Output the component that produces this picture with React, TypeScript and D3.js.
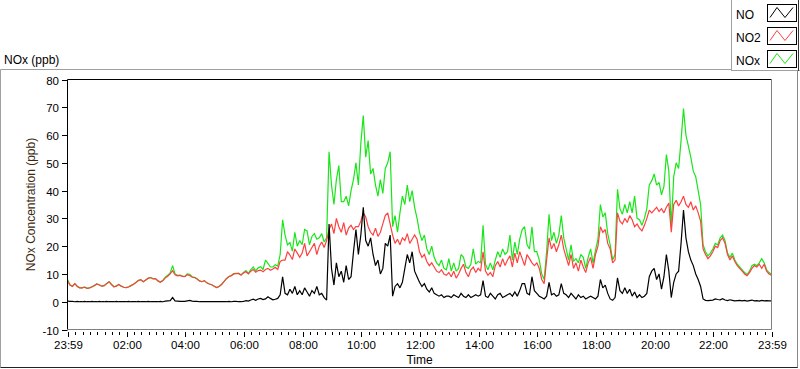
import * as d3 from "d3";
import { useEffect, useRef } from "react";

// 5-minute readings from 23:59 to 23:59 next day (289 points each)
const noValues = [
  0.2, 0.1, 0.1, 0, 0.1, 0, 0, 0.1, 0, 0, 0.1, 0,
  0, 0.1, 0, 0, 0.1, 0, 0, 0, 0.1, 0, 0, 0,
  0, 0.1, 0, 0, 0, 0.1, 0, 0, 0, 0.1, 0, 0,
  0, 0, 0.1, 0, 0.2, 0.3, 0.4, 1.5, 0.3, 0.2, 0.1, 0.1,
  0.1, 0.3, 0.5, 0.2, 0.1, 0.1, 0, 0, 0, 0, 0, 0,
  0, 0, 0, 0, 0, 0, 0.1, 0, 0.1, 0.1, 0, 0,
  0.1, 0.4, 0.2, 0.6, 0.9, 0.5, 1, 1.2, 0.8, 1, 1.8, 1.2,
  0.7, 0.9, 1.2, 2.5, 9, 3, 2.5, 4.5, 3, 5.5, 2.5, 4,
  2.5, 5, 3.5, 2, 4, 3, 5.5, 2.5, 3, 1.5, 0.6, 28,
  12, 6, 14, 9, 11, 7, 13, 8, 9, 18, 26, 17,
  24, 34, 22, 20, 23, 17, 13, 15, 10, 12, 21, 20,
  24, 2, 5.5, 6.5, 5, 7, 12, 17, 14, 18, 11, 9,
  7, 5.5, 6.5, 4.5, 3.5, 5, 3, 2.5, 2, 2.5, 1.5, 2,
  2, 1.5, 2.5, 2, 1.5, 3, 2, 1.5, 2.5, 1.5, 2, 2.5,
  2, 2.5, 7.6, 2, 1.5, 3, 2, 1, 2.5, 3, 1.5, 2,
  2.5, 3, 2, 3.5, 2, 4, 6.5, 6.5, 3, 2.5, 9, 4,
  3, 2, 1.5, 1, 2, 7, 2.5, 3, 2, 2.5, 6.5, 3,
  2.5, 1.5, 3, 2, 1, 2.5, 1.5, 2, 1, 1.5, 2, 1.5,
  1, 2, 8, 5, 6, 3, 1, 0.5, 1.5, 8.6, 4, 3,
  5, 3, 4.5, 2, 3.5, 1.5, 2.5, 1.5, 2, 3, 9, 11,
  12, 8, 10, 4.5, 9, 17, 11, 1.5, 7, 10, 11, 21,
  33, 23, 18, 15, 13, 10, 8, 5.5, 1, 0.5, 0.4, 0.5,
  0.6, 1, 0.8, 0.7, 1.1, 0.6, 0.4, 0.7, 0.5, 0.3, 0.4, 0.5,
  0.3, 0.5, 0.2, 0.4, 0.6, 0.3, 0.4, 0.2, 0.5, 0.3, 0.4, 0.3,
  0.3,
];

const no2Values = [
  7.5, 6, 5.5, 6.5, 5.5, 5, 5, 5.2, 4.8, 5, 5.3, 5.8,
  6.4, 6, 5.6, 5.8, 6.5, 7.2, 6.2, 5.4, 5.6, 6.2, 5.6, 5.2,
  5.1, 5.3, 5.8, 6.3, 6.9, 7.6, 7.9, 7.2, 7.8, 8.4, 8.7, 8.2,
  8.3, 7.5, 7, 7.6, 8.6, 9.2, 10, 11.2, 9.7, 9.3, 9.5, 9.1,
  9, 9.7, 9.4, 8.8, 8.7, 8.2, 7.5, 7.2, 7.6, 6.8, 6.4, 6.1,
  5.6, 5.1, 5.5, 6.2, 7.2, 8.3, 9, 9.4, 10, 10.1, 10.2, 9.6,
  10.4, 10.8, 10, 11, 11.6, 10.6, 11.2, 11.4, 10.8, 11.6, 12, 11.3,
  11.8, 12.4, 11.6, 14.5, 15, 15, 18, 16.8, 15.2, 19, 17.5, 16,
  17.5, 21, 16.5, 18, 19.5, 21, 17, 20, 21.5, 19.5, 22, 26,
  28, 24.5, 30, 27, 25, 28.5, 24, 26.5, 27.5, 26, 27, 27,
  29, 32, 30.5, 27, 25, 24, 26.5, 23.5, 25, 28, 31, 32,
  28, 24, 21, 22.5, 20.5, 23, 22, 24.5, 21, 22.5, 24, 22.5,
  18, 16, 17, 14.5, 13, 14, 12.5, 11, 10.5, 11.5, 10, 9.5,
  10.5, 9, 11, 8.5, 10, 12, 13.5, 10.5, 9, 11.5, 12.5, 10.5,
  12, 11, 18, 11, 9.5, 10.5, 9, 13, 14.5, 12.5, 15.5, 13,
  15, 16.5, 12.5, 17.5, 14, 18, 15.5, 13, 17, 15.5, 14, 13,
  14, 12, 8, 6.5, 15, 23, 19, 21, 18, 20.5, 24, 19,
  16, 13, 17, 12, 14, 11, 15, 12.5, 10.5, 14, 16, 12,
  17, 20, 27, 25, 26, 21, 19, 14, 15, 32, 29, 28,
  30, 28.5, 31, 29.5, 27, 28, 26.5, 25.5, 27.5, 30, 33, 32,
  33, 34, 32.5, 33.5, 32, 34, 35.5, 25, 35, 36.5, 34.5, 36,
  38, 35, 34, 36, 33, 34.5, 32, 29, 19, 17, 15.5, 16.5,
  18, 20, 19.5, 22, 23, 21, 17, 15, 16.5, 14.5, 13, 12,
  11, 10, 9.4, 10.5, 12, 13, 12.5, 13.5, 12, 13.5, 11, 10,
  9.5,
];

const noxValues = [
  8, 6.1, 5.6, 6.5, 5.6, 5, 5, 5.3, 4.8, 5, 5.4, 5.8,
  6.4, 6.1, 5.6, 5.8, 6.6, 7.2, 6.2, 5.4, 5.7, 6.2, 5.6, 5.2,
  5.1, 5.4, 5.8, 6.3, 6.9, 7.7, 7.9, 7.2, 7.8, 8.5, 8.7, 8.3,
  8.3, 7.5, 7.1, 7.6, 8.8, 9.5, 10.4, 13, 10, 9.5, 9.6, 9.2,
  9.1, 10, 9.9, 9, 8.8, 8.3, 7.5, 7.2, 7.6, 6.8, 6.4, 6.1,
  5.6, 5.1, 5.5, 6.2, 7.2, 8.3, 9.1, 9.4, 10.1, 10.2, 10.2, 9.6,
  10.5, 11.2, 10.2, 11.6, 12.5, 11.1, 12.2, 12.6, 11.6, 15, 13.8, 12.5,
  12.5, 13.3, 12.8, 17, 29.5, 24, 20.5, 21.3, 18.2, 25, 20, 22,
  20.5, 26, 25.5, 20.5, 23.5, 24.5, 22.5, 23, 24.5, 21.5, 23, 54,
  42, 35, 44, 49, 36, 36, 38, 34.5, 40, 44, 50, 42,
  57, 67, 52, 58, 46, 48, 42, 38, 44, 39, 48, 50,
  54, 27, 31, 25, 32, 38, 35, 42, 36, 40, 34, 30,
  25, 22, 24, 19, 17, 20, 16, 14, 13, 15, 12, 11.5,
  15.5, 11, 14, 11, 12, 17, 16, 12.5, 12, 13.5, 19, 13.5,
  14.5, 14, 27.5, 13.5, 11.5, 14, 11.5, 15, 18, 16, 19, 17,
  18, 24, 15, 21.5, 17, 22.5, 26, 27, 20.5, 19, 27, 18,
  18, 15, 10, 8, 18, 31.5, 22, 25, 21, 24, 31, 23,
  19, 15, 20.5, 14.5, 15.5, 14, 17, 16, 12, 16, 19, 14,
  18.5, 22.5, 35, 30.5, 32, 24.5, 20.5, 15, 17, 40.5, 33.5, 31.5,
  35, 32, 36, 32, 38, 30, 29.5, 27.5, 30, 33.5, 42, 43.5,
  46, 42, 43, 38.5, 41.5, 53, 47, 27, 45, 50, 48, 58,
  69.5, 60, 56, 52, 47, 45, 40, 35, 20.5, 18, 16.5, 17.5,
  19, 21, 20.5, 23, 24, 22, 17.5, 16, 17.5, 15, 13.5, 12.5,
  11.5, 10.5, 9.8, 11, 13, 13.5, 13, 14, 15.5, 14, 11.5, 10.5,
  9.8,
];

const seriesNames = ["NO", "NO2", "NOx"];
const seriesColors = ["#000000", "#ff4040", "#19e619"];
const yTicks = [80, 70, 60, 50, 40, 30, 20, 10, 0, -10];
const stepMinutes = 5;

export default function App() {
  const svgRef = useRef<SVGSVGElement | null>(null);
  const width = 800;
  const height = 369;

  useEffect(() => {
    const svg = d3.select(svgRef.current);
    svg.selectAll("*").remove();

    const font = "'Liberation Sans', Arial, sans-serif";
    const plot = { left: 67.5, right: 771.5, top: 79.5, bottom: 329.5 };

    const start = new Date(2024, 0, 1, 23, 59);
    const end = new Date(2024, 0, 2, 23, 59);

    const x = d3.scaleTime().domain([start, end]).range([plot.left, plot.right]);
    const y = d3.scaleLinear().domain([-10, 80]).range([plot.bottom, plot.top]);

    svg.append("rect").attr("width", width).attr("height", height).attr("fill", "#fff");

    // outer frame
    svg.append("line").attr("x1", 0.5).attr("x2", 0.5).attr("y1", 69.5).attr("y2", 367.5).attr("stroke", "#a0a0a0");
    svg.append("line").attr("x1", 0.5).attr("x2", 731).attr("y1", 69.5).attr("y2", 69.5).attr("stroke", "#a0a0a0");
    svg.append("line").attr("x1", 0.5).attr("x2", 798).attr("y1", 367.5).attr("y2", 367.5).attr("stroke", "#222");
    svg.append("line").attr("x1", 797.5).attr("x2", 797.5).attr("y1", 69.5).attr("y2", 367.5).attr("stroke", "#888");

    svg.append("text")
      .attr("x", 4)
      .attr("y", 64)
      .attr("font-family", font)
      .attr("font-size", 12)
      .text("NOx (ppb)");

    // plot area borders
    svg.append("line").attr("x1", plot.left).attr("x2", plot.right).attr("y1", plot.top).attr("y2", plot.top).attr("stroke", "#000");
    svg.append("line").attr("x1", plot.left).attr("x2", plot.left).attr("y1", plot.top).attr("y2", plot.bottom).attr("stroke", "#000");
    svg.append("line").attr("x1", plot.left).attr("x2", plot.right).attr("y1", plot.bottom).attr("y2", plot.bottom).attr("stroke", "#808080");
    svg.append("line").attr("x1", plot.right).attr("x2", plot.right).attr("y1", plot.top).attr("y2", plot.bottom).attr("stroke", "#808080");

    // y ticks
    const yg = svg.append("g");
    yTicks.forEach((t) => {
      const yy = Math.round(y(t)) + 0.5;
      yg.append("line").attr("x1", 62).attr("x2", plot.left).attr("y1", yy).attr("y2", yy).attr("stroke", "#000");
      yg.append("text")
        .attr("x", 59)
        .attr("y", yy + 4)
        .attr("text-anchor", "end")
        .attr("font-family", font)
        .attr("font-size", 11.5)
        .text(t);
    });

    svg.append("text")
      .attr("transform", `translate(35,${(plot.top + plot.bottom) / 2}) rotate(-90)`)
      .attr("text-anchor", "middle")
      .attr("font-family", font)
      .attr("font-size", 12)
      .attr("fill", "#3a2a10")
      .text("NOx Concentration (ppb)");

    // x ticks
    const minor = d3.timeMinute.every(15)!.range(start, end);
    const xg = svg.append("g");
    minor.forEach((d) => {
      const xx = Math.round(x(d)) + 0.5;
      xg.append("line").attr("x1", xx).attr("x2", xx).attr("y1", 332).attr("y2", 335).attr("stroke", "#000");
    });
    const major = [start, ...d3.timeHour.every(2)!.range(new Date(2024, 0, 2, 2), end), end];
    const fmt = d3.timeFormat("%H:%M");
    major.forEach((d) => {
      const xx = Math.round(x(d)) + 0.5;
      xg.append("line").attr("x1", xx).attr("x2", xx).attr("y1", 332).attr("y2", 337).attr("stroke", "#000");
      xg.append("text")
        .attr("x", xx)
        .attr("y", 349)
        .attr("text-anchor", "middle")
        .attr("font-family", font)
        .attr("font-size", 11.5)
        .text(fmt(d));
    });

    svg.append("text")
      .attr("x", (plot.left + plot.right) / 2)
      .attr("y", 364)
      .attr("text-anchor", "middle")
      .attr("font-family", font)
      .attr("font-size", 12)
      .text("Time");

    // series
    svg.append("defs")
      .append("clipPath")
      .attr("id", "plot-clip")
      .append("rect")
      .attr("x", plot.left + 0.5)
      .attr("y", plot.top + 0.5)
      .attr("width", plot.right - plot.left - 1)
      .attr("height", plot.bottom - plot.top - 1);

    const timeAt = (i: number) => new Date(start.getTime() + i * stepMinutes * 60000);
    const line = d3
      .line<number>()
      .x((_, i) => x(timeAt(i)))
      .y((d) => y(d));

    const lines = svg.append("g").attr("clip-path", "url(#plot-clip)");
    const drawOrder = [
      { values: noxValues, color: seriesColors[2] },
      { values: no2Values, color: seriesColors[1] },
      { values: noValues, color: seriesColors[0] },
    ];
    drawOrder.forEach((s) => {
      lines.append("path")
        .attr("d", line(s.values))
        .attr("fill", "none")
        .attr("stroke", s.color)
        .attr("stroke-width", 1.2)
        .attr("stroke-linejoin", "miter")
        .attr("stroke-miterlimit", 2);
    });

    // legend
    const lg = svg.append("g");
    lg.append("rect").attr("x", 731.5).attr("y", -1).attr("width", 70).attr("height", 71.5).attr("fill", "#fff").attr("stroke", "#a0a0a0");
    lg.append("line").attr("x1", 798.5).attr("x2", 798.5).attr("y1", 0).attr("y2", 71).attr("stroke", "#333");
    seriesNames.forEach((name, i) => {
      const top = 4.5 + i * 23;
      lg.append("text")
        .attr("x", 736)
        .attr("y", top + 14)
        .attr("font-family", font)
        .attr("font-size", 12)
        .text(name);
      lg.append("rect")
        .attr("x", 767.5)
        .attr("y", top)
        .attr("width", 29)
        .attr("height", 17)
        .attr("fill", "#fff")
        .attr("stroke", "#000");
      const zig = [
        [770, top + 13],
        [777, top + 3],
        [785, top + 13],
        [793, top + 3],
      ];
      lg.append("path")
        .attr("d", d3.line()(zig as [number, number][]))
        .attr("fill", "none")
        .attr("stroke", seriesColors[i])
        .attr("stroke-width", 1);
    });
  }, []);

  return (
    <svg
      ref={svgRef}
      width={width}
      height={height}
      style={{ position: "fixed", left: 0, top: 0, display: "block" }}
    ></svg>
  );
}
